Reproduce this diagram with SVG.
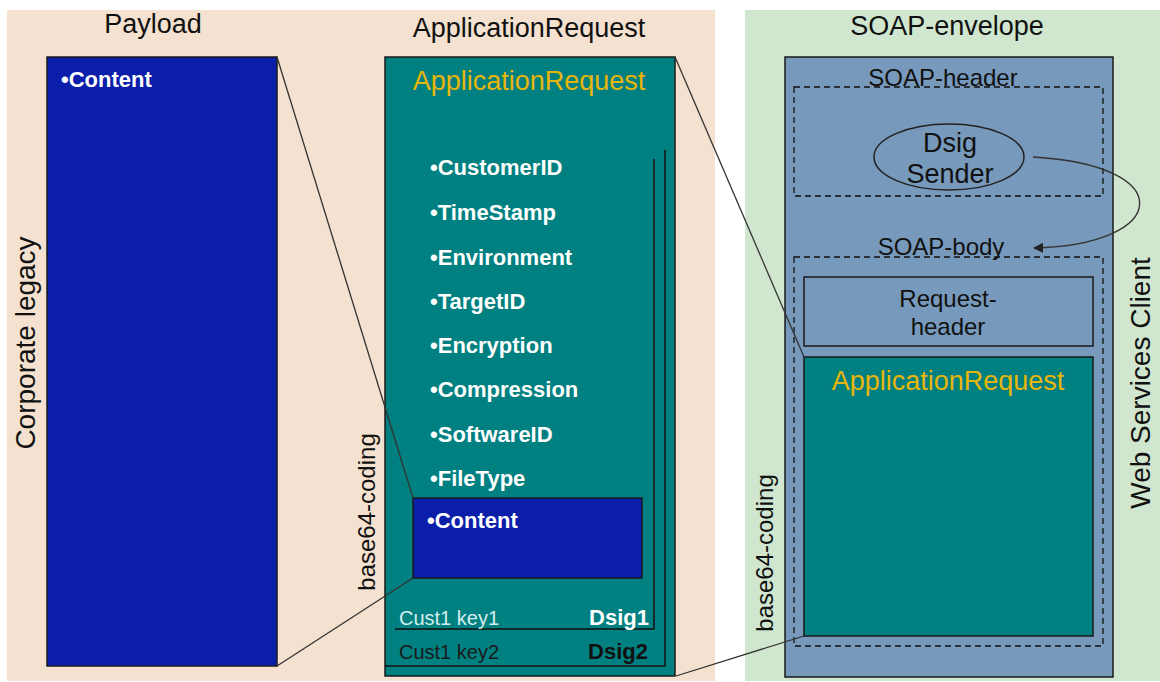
<svg xmlns="http://www.w3.org/2000/svg" width="1160" height="682" viewBox="0 0 1160 682">
<defs>
<style>
.t{font-family:"Liberation Sans",Arial,sans-serif;}
.title{font-size:27px;fill:#111;text-anchor:middle;}
.bul{font-size:22px;font-weight:bold;fill:#fff;}
.yel{font-size:27px;fill:#E8B60A;text-anchor:middle;}
.lbl{font-size:24px;fill:#111;text-anchor:middle;}
.box{stroke:#1a1a1a;stroke-width:1.5;}
.dash{fill:none;stroke:#111;stroke-width:1.3;stroke-dasharray:6 4;}
.conn{stroke:#333;stroke-width:1.3;fill:none;}
.br{stroke:#111;stroke-width:1.5;fill:none;}
</style>
<marker id="arr" viewBox="0 0 10 10" refX="9" refY="5" markerWidth="10" markerHeight="10" markerUnits="userSpaceOnUse" orient="auto">
<path d="M0,0 L10,5 L0,10 z" fill="#222"/>
</marker>
</defs>
<rect x="0" y="0" width="1160" height="682" fill="#fff"/>
<g id="panel-legacy">
<rect x="7" y="10" width="708" height="671" fill="#F5E1CF"/>
</g>
<g id="panel-ws">
<rect x="745" y="10" width="415" height="671" fill="#D0E6CF"/>
</g>
<g id="corporate-legacy">
<text class="t" font-size="28" fill="#111" text-anchor="middle" transform="translate(35,343) rotate(-90)">Corporate legacy</text>
</g>
<g id="payload">
<text class="t title" x="153" y="33">Payload</text>
<rect class="box" x="47" y="57" width="230" height="609" fill="#0A1EAA"/>
<text class="t bul" x="61" y="87">•Content</text>
</g>
<g id="application-request">
<text class="t title" x="529" y="37">ApplicationRequest</text>
<rect class="box" x="385" y="57" width="290" height="619" fill="#008080"/>
<text class="t yel" x="529" y="90">ApplicationRequest</text>
<text class="t bul" x="430" y="175">•CustomerID</text>
<text class="t bul" x="430" y="220">•TimeStamp</text>
<text class="t bul" x="430" y="265">•Environment</text>
<text class="t bul" x="430" y="309">•TargetID</text>
<text class="t bul" x="430" y="353">•Encryption</text>
<text class="t bul" x="430" y="397">•Compression</text>
<text class="t bul" x="430" y="442">•SoftwareID</text>
<text class="t bul" x="430" y="486">•FileType</text>
<path class="br" d="M654,159 V629 H395"/>
<path class="br" d="M665,150 V666 H385"/>
<text class="t" x="399" y="625" font-size="20" fill="#D6EEEE">Cust1 key1</text>
<text class="t" x="649" y="625" font-size="22" font-weight="bold" fill="#fff" text-anchor="end">Dsig1</text>
<text class="t" x="399" y="659" font-size="20" fill="#1a1a1a">Cust1 key2</text>
<text class="t" x="648" y="659" font-size="22" font-weight="bold" fill="#111" text-anchor="end">Dsig2</text>
</g>
<g id="content">
<rect class="box" x="413" y="498" width="229" height="80" fill="#0A1EAA"/>
<text class="t bul" x="427" y="528">•Content</text>
</g>
<g id="base64-left">
<text class="t" font-size="24" fill="#111" text-anchor="middle" transform="translate(375,512) rotate(-90)">base64-coding</text>
</g>
<g id="soap-envelope">
<text class="t title" x="947" y="35">SOAP-envelope</text>
<rect class="box" x="785" y="57" width="328" height="620" fill="#7799BB"/>
</g>
<g id="soap-header">
<text class="t lbl" x="943" y="86">SOAP-header</text>
<rect class="dash" x="794" y="87" width="309" height="109"/>
</g>
<g id="dsig-sender">
<ellipse cx="949" cy="157" rx="75" ry="33" fill="none" stroke="#222" stroke-width="1.5"/>
<text class="t" x="950" y="152" font-size="27" fill="#111" text-anchor="middle">Dsig</text>
<text class="t" x="950" y="183" font-size="27" fill="#111" text-anchor="middle">Sender</text>
</g>
<g id="soap-body">
<text class="t lbl" x="941" y="255">SOAP-body</text>
<rect class="dash" x="794" y="257" width="309" height="389"/>
</g>
<g id="request-header">
<rect class="box" x="804" y="277" width="289" height="69" fill="#7799BB"/>
<text class="t lbl" x="948" y="307">Request-</text>
<text class="t lbl" x="948" y="335">header</text>
</g>
<g id="application-request-inner">
<rect class="box" x="804" y="357" width="289" height="279" fill="#008080"/>
<text class="t yel" x="948" y="390">ApplicationRequest</text>
</g>
<g id="base64-right">
<text class="t" font-size="24" fill="#111" text-anchor="middle" transform="translate(773,553) rotate(-90)">base64-coding</text>
</g>
<g id="web-services-client">
<text class="t" font-size="28" fill="#111" text-anchor="middle" transform="translate(1150,383) rotate(-90)">Web Services Client</text>
</g>
<g id="connectors">
<line class="conn" x1="277" y1="57" x2="413" y2="498"/>
<line class="conn" x1="277" y1="666" x2="413" y2="578"/>
<line class="conn" x1="675" y1="57" x2="804" y2="357"/>
<line class="conn" x1="676" y1="676" x2="804" y2="636"/>
<path class="conn" d="M1033,157 C1180,165 1170,245 1034,248" stroke="#222" stroke-width="1.5" marker-end="url(#arr)"/>
</g>
</svg>
